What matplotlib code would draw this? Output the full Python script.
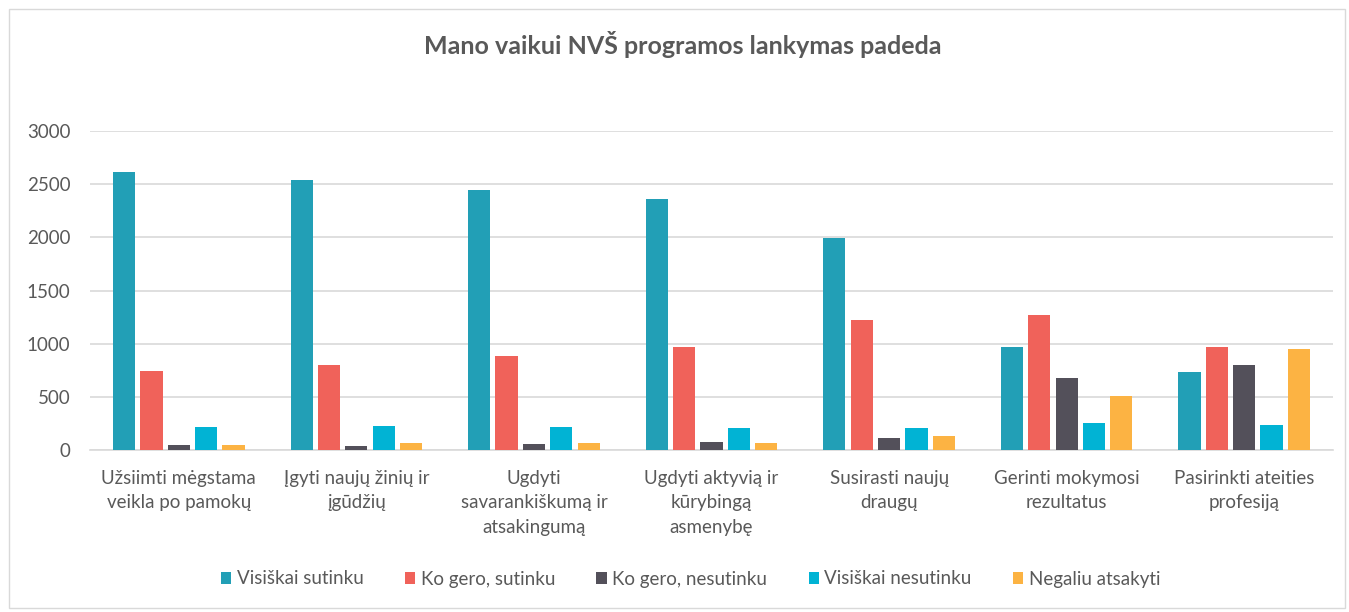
import numpy as np
import matplotlib.pyplot as plt
from matplotlib.patches import Rectangle

plt.rcParams["font.family"] = ["Lato", "DejaVu Sans"]

categories = [
    "Užsiimti mėgstama\nveikla po pamokų",
    "Įgyti naujų žinių ir\nįgūdžių",
    "Ugdyti\nsavarankiškumą ir\natsakingumą",
    "Ugdyti aktyvią ir\nkūrybingą\nasmenybę",
    "Susirasti naujų\ndraugų",
    "Gerinti mokymosi\nrezultatus",
    "Pasirinkti ateities\nprofesiją",
]
series_names = [
    "Visiškai sutinku",
    "Ko gero, sutinku",
    "Ko gero, nesutinku",
    "Visiškai nesutinku",
    "Negaliu atsakyti",
]
visiskai_sutinku = [2612, 2537, 2446, 2360, 1997, 970, 739]
ko_gero_sutinku = [745, 804, 889, 967, 1224, 1274, 968]
ko_gero_nesutinku = [50, 40, 56, 75, 118, 679, 801]
visiskai_nesutinku = [219, 228, 219, 208, 210, 254, 241]
negaliu_atsakyti = [53, 69, 71, 68, 137, 510, 949]
colors = ["#229FB6", "#F0625A", "#53505A", "#01B3D4", "#FCB343"]

values = [visiskai_sutinku, ko_gero_sutinku, ko_gero_nesutinku,
          visiskai_nesutinku, negaliu_atsakyti]

text_color = "#595959"
grid_color = "#D9D9D9"

fig = plt.figure(figsize=(13.49, 6.12), dpi=100)
ax = fig.add_axes([90 / 1349, 1 - 450.3 / 612, 1243 / 1349, 319.3 / 612])

x = np.arange(len(categories))
pitch = 0.154
width = 0.125
for i, (name, vals, c) in enumerate(zip(series_names, values, colors)):
    ax.bar(x + (i - 2) * pitch, vals, width, color=c, label=name, zorder=3)

ax.set_xlim(-0.5, len(categories) - 0.5)
ax.set_ylim(0, 3000)
ax.set_yticks(range(0, 3001, 500))
ax.yaxis.grid(True, color=grid_color, linewidth=1.2, zorder=0)
ax.set_axisbelow(True)
for s in ["left", "right", "top"]:
    ax.spines[s].set_visible(False)
ax.spines["bottom"].set_color(grid_color)
ax.spines["bottom"].set_linewidth(1.2)
ax.tick_params(axis="both", length=0, colors=text_color, labelsize=13.5)
ax.tick_params(axis="y", pad=14)
ax.tick_params(axis="x", pad=14)
ax.set_xticks(x)
ax.set_xticklabels(categories, linespacing=1.55)

fig.text(0.506, 1 - 45 / 612, "Mano vaikui NVŠ programos lankymas padeda",
         ha="center", va="center", fontsize=18, fontweight="bold", color=text_color)

fig.legend(loc="center", bbox_to_anchor=(0.512, 1 - 579 / 612), ncol=5,
           frameon=False, fontsize=13.5, labelcolor=text_color,
           handlelength=0.55, handleheight=0.55, handletextpad=0.3,
           columnspacing=2.2)

fig.patches.append(Rectangle((9 / 1349, 4 / 612), 1336 / 1349, 599 / 612,
                             transform=fig.transFigure, fill=False,
                             edgecolor=grid_color, linewidth=1))

fig.savefig("out.png", dpi=100)
